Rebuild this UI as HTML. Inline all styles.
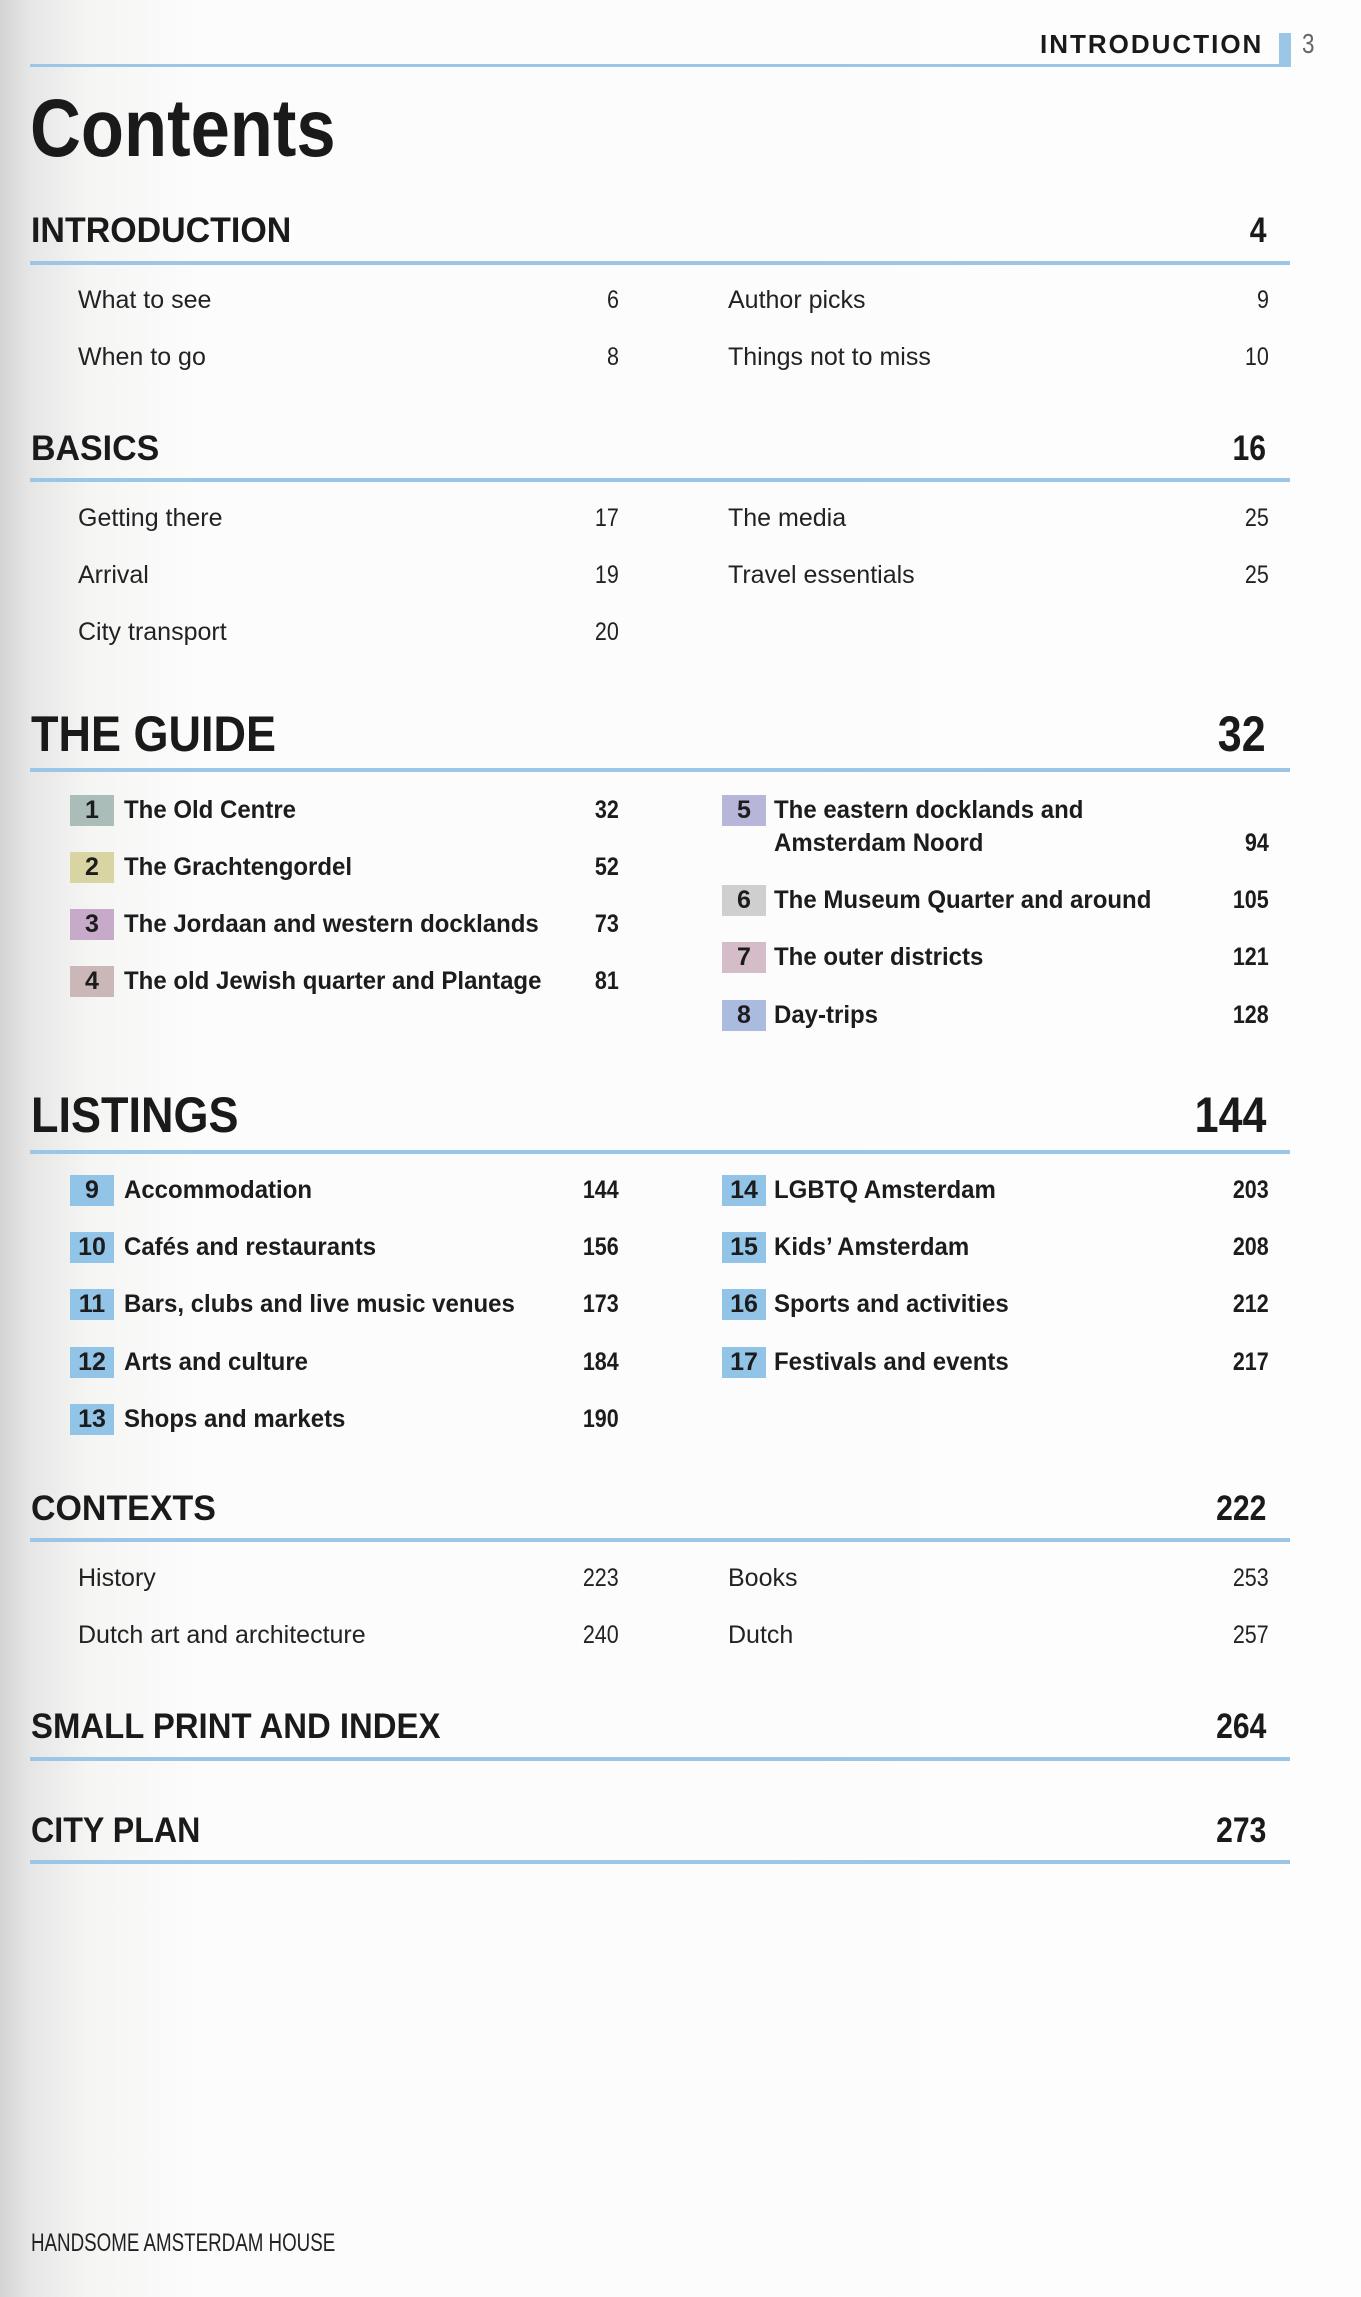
<!DOCTYPE html>
<html><head><meta charset="utf-8"><style>
html,body{margin:0;padding:0}
body{width:1361px;height:2297px;position:relative;overflow:hidden;
background:linear-gradient(90deg,#d4d4d4 0px,#e6e6e6 30px,#f5f5f4 90px,#fcfcfc 200px,#fdfdfd 100%);
font-family:"Liberation Sans",sans-serif;color:#1a1a1a}
.t{position:absolute;white-space:nowrap;transform-origin:left center;transform:scaleX(.86)}
.r{position:absolute;white-space:nowrap;transform-origin:right center;transform:scaleX(.86);text-align:right}
.ln{position:absolute;left:30px;width:1260px;height:4px;background:#9cc6e6}
.h{font-weight:bold;font-size:35px;line-height:35px}
.t.h{transform:scaleX(.97)}
.hb{font-weight:bold;font-size:50px;line-height:50px}
.t.hb{transform:scaleX(.9)}
.i{font-size:25px;line-height:25px;color:#222}
.t.i{transform:scaleX(1)}
.g{font-size:25px;line-height:25px;font-weight:bold;color:#1c1c1c}
.t.g{transform:scaleX(.96)}
.bx{position:absolute;width:44px;height:31px;font-weight:bold;font-size:25px;line-height:31px;text-align:center;color:#1c1c1c}
</style></head><body>

<div class="t" style="left:1040px;top:31px;font-weight:bold;font-size:26px;line-height:26px;letter-spacing:2px;transform:scaleX(1)">INTRODUCTION</div>
<div style="position:absolute;left:1279px;top:33px;width:12px;height:34px;background:#9cc6e6"></div>
<div class="t" style="left:1302px;top:30px;font-size:28px;line-height:28px;color:#666;transform:scaleX(.8)">3</div>
<div class="ln" style="top:64px;height:3px;width:1250px"></div>

<div class="t" style="left:30px;top:88px;font-weight:bold;font-size:82px;line-height:82px;transform:scaleX(.86)">Contents</div>

<!-- INTRODUCTION -->
<div class="t h" style="left:31px;top:213px">INTRODUCTION</div>
<div class="r h" style="right:95px;top:213px">4</div>
<div class="ln" style="top:261px"></div>
<div class="t i" style="left:78px;top:288px">What to see</div><div class="r i" style="right:742px;top:288px">6</div>
<div class="t i" style="left:78px;top:345px">When to go</div><div class="r i" style="right:742px;top:345px">8</div>
<div class="t i" style="left:728px;top:288px">Author picks</div><div class="r i" style="right:92px;top:288px">9</div>
<div class="t i" style="left:728px;top:345px">Things not to miss</div><div class="r i" style="right:92px;top:345px">10</div>

<!-- BASICS -->
<div class="t h" style="left:31px;top:431px">BASICS</div>
<div class="r h" style="right:95px;top:431px">16</div>
<div class="ln" style="top:478px"></div>
<div class="t i" style="left:78px;top:506px">Getting there</div><div class="r i" style="right:742px;top:506px">17</div>
<div class="t i" style="left:78px;top:563px">Arrival</div><div class="r i" style="right:742px;top:563px">19</div>
<div class="t i" style="left:78px;top:620px">City transport</div><div class="r i" style="right:742px;top:620px">20</div>
<div class="t i" style="left:728px;top:506px">The media</div><div class="r i" style="right:92px;top:506px">25</div>
<div class="t i" style="left:728px;top:563px">Travel essentials</div><div class="r i" style="right:92px;top:563px">25</div>

<!-- THE GUIDE -->
<div class="t hb" style="left:31px;top:709px">THE GUIDE</div>
<div class="r hb" style="right:95px;top:709px">32</div>
<div class="ln" style="top:768px"></div>

<div class="bx" style="left:70px;top:795px;background:#aabdb9">1</div><div class="t g" style="left:124px;top:798px">The Old Centre</div><div class="r g" style="right:742px;top:798px">32</div>
<div class="bx" style="left:70px;top:852px;background:#d8d5a2">2</div><div class="t g" style="left:124px;top:855px">The Grachtengordel</div><div class="r g" style="right:742px;top:855px">52</div>
<div class="bx" style="left:70px;top:909px;background:#c7a9c9">3</div><div class="t g" style="left:124px;top:912px">The Jordaan and western docklands</div><div class="r g" style="right:742px;top:912px">73</div>
<div class="bx" style="left:70px;top:966px;background:#cbb6b8">4</div><div class="t g" style="left:124px;top:969px">The old Jewish quarter and Plantage</div><div class="r g" style="right:742px;top:969px">81</div>

<div class="bx" style="left:722px;top:795px;background:#b7b5d8">5</div><div class="t g" style="left:774px;top:798px">The eastern docklands and</div>
<div class="t g" style="left:774px;top:831px">Amsterdam Noord</div><div class="r g" style="right:92px;top:831px">94</div>
<div class="bx" style="left:722px;top:885px;background:#cfcfcf">6</div><div class="t g" style="left:774px;top:888px">The Museum Quarter and around</div><div class="r g" style="right:92px;top:888px">105</div>
<div class="bx" style="left:722px;top:942px;background:#d4bcc9">7</div><div class="t g" style="left:774px;top:945px">The outer districts</div><div class="r g" style="right:92px;top:945px">121</div>
<div class="bx" style="left:722px;top:1000px;background:#abbbe0">8</div><div class="t g" style="left:774px;top:1003px">Day-trips</div><div class="r g" style="right:92px;top:1003px">128</div>

<!-- LISTINGS -->
<div class="t hb" style="left:31px;top:1090px">LISTINGS</div>
<div class="r hb" style="right:95px;top:1090px">144</div>
<div class="ln" style="top:1150px"></div>

<div class="bx" style="left:70px;top:1175px;background:#92c4e8">9</div><div class="t g" style="left:124px;top:1178px">Accommodation</div><div class="r g" style="right:742px;top:1178px">144</div>
<div class="bx" style="left:70px;top:1232px;background:#92c4e8">10</div><div class="t g" style="left:124px;top:1235px">Cafés and restaurants</div><div class="r g" style="right:742px;top:1235px">156</div>
<div class="bx" style="left:70px;top:1289px;background:#92c4e8">11</div><div class="t g" style="left:124px;top:1292px">Bars, clubs and live music venues</div><div class="r g" style="right:742px;top:1292px">173</div>
<div class="bx" style="left:70px;top:1347px;background:#92c4e8">12</div><div class="t g" style="left:124px;top:1350px">Arts and culture</div><div class="r g" style="right:742px;top:1350px">184</div>
<div class="bx" style="left:70px;top:1404px;background:#92c4e8">13</div><div class="t g" style="left:124px;top:1407px">Shops and markets</div><div class="r g" style="right:742px;top:1407px">190</div>

<div class="bx" style="left:722px;top:1175px;background:#92c4e8">14</div><div class="t g" style="left:774px;top:1178px">LGBTQ Amsterdam</div><div class="r g" style="right:92px;top:1178px">203</div>
<div class="bx" style="left:722px;top:1232px;background:#92c4e8">15</div><div class="t g" style="left:774px;top:1235px">Kids’ Amsterdam</div><div class="r g" style="right:92px;top:1235px">208</div>
<div class="bx" style="left:722px;top:1289px;background:#92c4e8">16</div><div class="t g" style="left:774px;top:1292px">Sports and activities</div><div class="r g" style="right:92px;top:1292px">212</div>
<div class="bx" style="left:722px;top:1347px;background:#92c4e8">17</div><div class="t g" style="left:774px;top:1350px">Festivals and events</div><div class="r g" style="right:92px;top:1350px">217</div>

<!-- CONTEXTS -->
<div class="t h" style="left:31px;top:1491px">CONTEXTS</div>
<div class="r h" style="right:95px;top:1491px">222</div>
<div class="ln" style="top:1538px"></div>
<div class="t i" style="left:78px;top:1566px">History</div><div class="r i" style="right:742px;top:1566px">223</div>
<div class="t i" style="left:78px;top:1623px">Dutch art and architecture</div><div class="r i" style="right:742px;top:1623px">240</div>
<div class="t i" style="left:728px;top:1566px">Books</div><div class="r i" style="right:92px;top:1566px">253</div>
<div class="t i" style="left:728px;top:1623px">Dutch</div><div class="r i" style="right:92px;top:1623px">257</div>

<!-- SMALL PRINT -->
<div class="t h" style="left:31px;top:1709px;transform:scaleX(.94)">SMALL PRINT AND INDEX</div>
<div class="r h" style="right:95px;top:1709px">264</div>
<div class="ln" style="top:1757px"></div>

<div class="t h" style="left:31px;top:1813px;transform:scaleX(.92)">CITY PLAN</div>
<div class="r h" style="right:95px;top:1813px">273</div>
<div class="ln" style="top:1860px"></div>

<div class="t" style="left:31px;top:2231px;font-size:25px;line-height:25px;color:#222;transform:scaleX(.75)">HANDSOME AMSTERDAM HOUSE</div>
</body></html>
